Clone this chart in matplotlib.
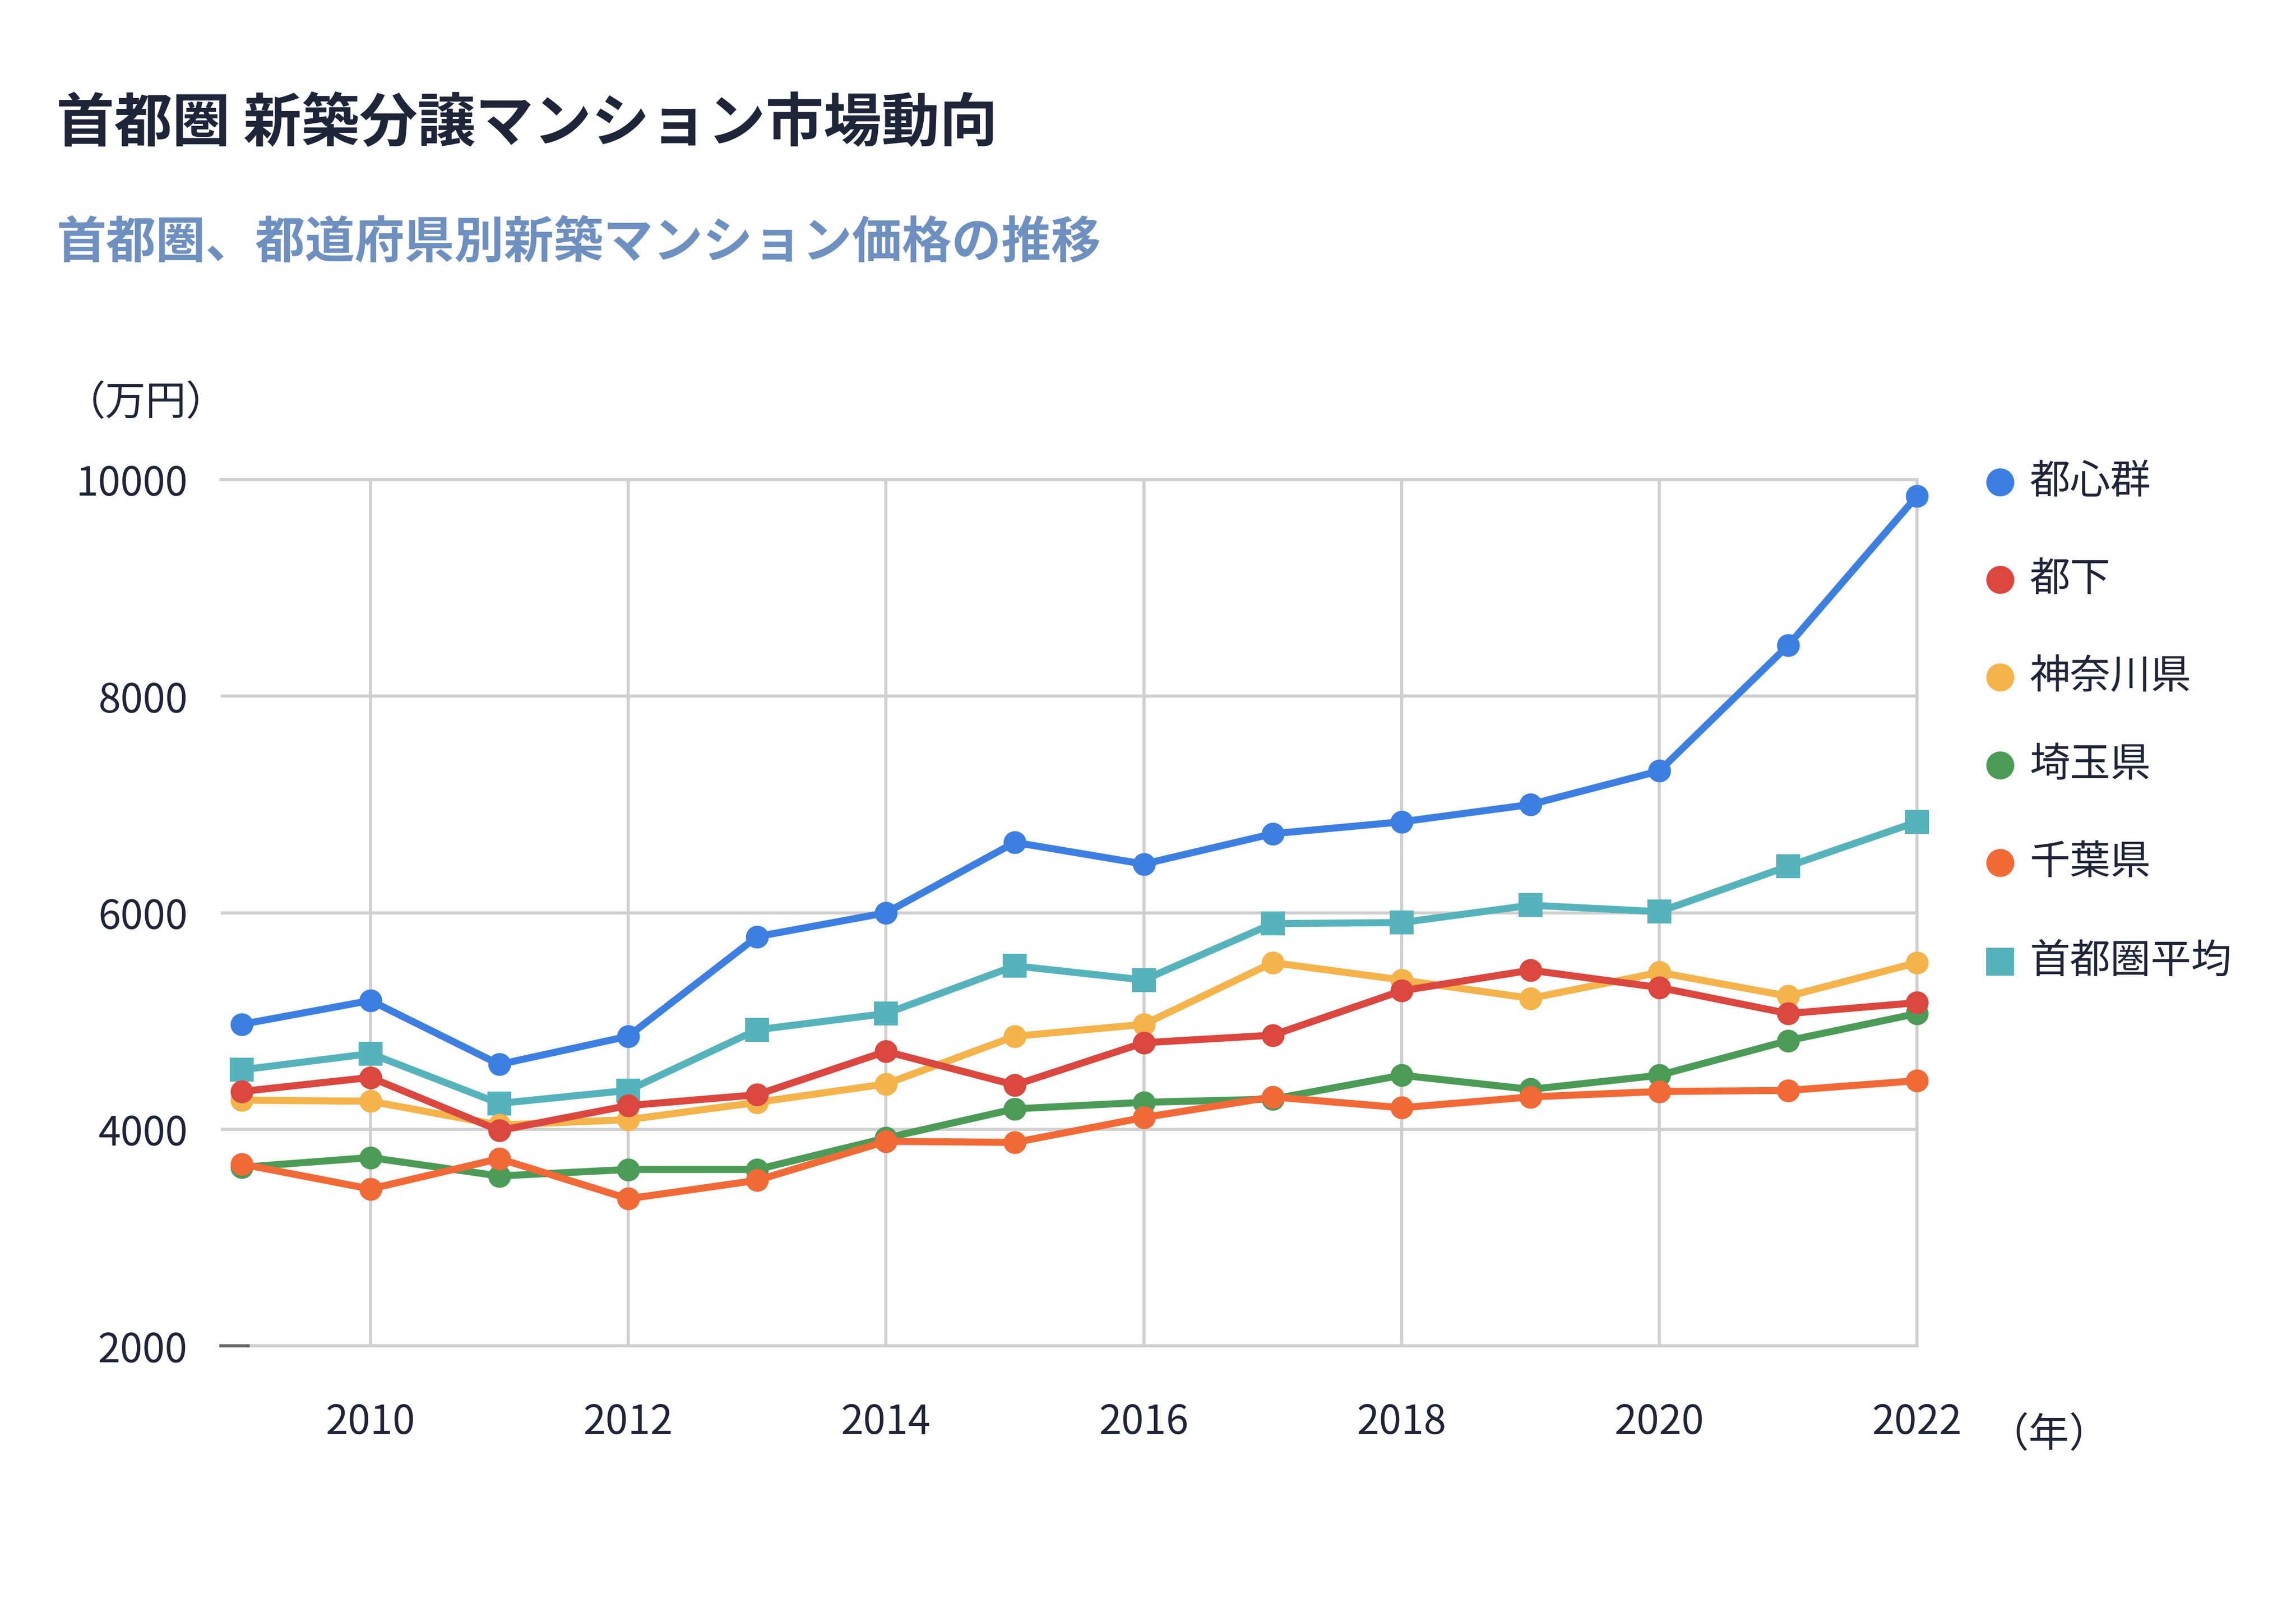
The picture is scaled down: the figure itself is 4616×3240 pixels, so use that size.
import matplotlib
matplotlib.use("Agg")
import matplotlib.pyplot as plt
from matplotlib.lines import Line2D

plt.rcParams['font.family'] = ['Noto Sans CJK JP', 'DejaVu Sans']

# データ (万円)
years = list(range(2009, 2023))
toshin = [4970, 5190, 4600, 4860, 5780, 6000, 6650, 6450, 6730, 6840, 7000, 7310, 8470, 9850]
tokka = [4350, 4480, 3990, 4220, 4320, 4720, 4410, 4800, 4870, 5280, 5470, 5310, 5070, 5170]
kanagawa = [4270, 4260, 4040, 4090, 4250, 4420, 4860, 4970, 5540, 5380, 5210, 5450, 5230, 5540]
saitama = [3650, 3740, 3570, 3630, 3630, 3920, 4190, 4250, 4280, 4500, 4370, 4500, 4820, 5070]
chiba = [3680, 3450, 3730, 3360, 3530, 3890, 3880, 4110, 4300, 4200, 4300, 4350, 4360, 4450]
heikin = [4550, 4700, 4240, 4360, 4920, 5070, 5510, 5380, 5900, 5910, 6070, 6010, 6430, 6840]

labels = ['都心群', '都下', '神奈川県', '埼玉県', '千葉県', '首都圏平均']
colors = ['#3d7fe0', '#d9473f', '#f4b34b', '#4b9b57', '#f06a38', '#57b3bb']
markers = ['o', 'o', 'o', 'o', 'o', 's']
series = [toshin, tokka, kanagawa, saitama, chiba, heikin]
zorders = [9, 8, 6, 5, 7, 4]

x_ticks = [2010, 2012, 2014, 2016, 2018, 2020, 2022]
y_ticks = [2000, 4000, 6000, 8000, 10000]

dark = '#1e2538'
grid_c = '#d0d0d0'

fig = plt.figure(figsize=(4616 / 300, 3240 / 300), dpi=300)
ax = fig.add_axes([0.0962, 0.165, 0.835 - 0.0962, 0.7025 - 0.165])

for vals, lab, c, m, z in zip(series, labels, colors, markers, zorders):
    ax.plot(years, vals, color=c, lw=3.4, marker=m,
            markersize=10 if m == 'o' else 10.5, label=lab, zorder=z, clip_on=False)

ax.set_xlim(2008.84, 2022)
ax.set_ylim(2000, 10000)
ax.set_xticks(x_ticks)
ax.set_yticks(y_ticks)
ax.grid(True, color=grid_c, lw=1.5)
ax.set_axisbelow(True)
for s in ['top', 'bottom', 'right']:
    ax.spines[s].set_color(grid_c)
    ax.spines[s].set_linewidth(1.5)
ax.spines['left'].set_visible(False)
ax.tick_params(axis='both', length=0, labelsize=19.5, labelcolor=dark)
ax.tick_params(axis='y', pad=16)
ax.tick_params(axis='x', pad=27)
# 左下の小さな目盛り
ax.plot([0, 0.016], [0, 0], transform=ax.transAxes, color='#666666', lw=1.5, clip_on=False, zorder=10)

ax.text(-0.092, 1.088, '（万円）', transform=ax.transAxes, fontsize=19.5,
        color=dark, ha='left', va='center')
ax.text(1.042, -0.103, '（年）', transform=ax.transAxes, fontsize=19.5,
        color=dark, ha='left', va='center')

fig.text(0.0245, 0.9228, '首都圏 新築分譲マンション市場動向', fontsize=28,
         fontweight='bold', color=dark, ha='left', va='center')
fig.text(0.0245, 0.849, '首都圏、都道府県別新築マンション価格の推移', fontsize=24,
         fontweight='bold', color='#6e90c0', ha='left', va='center')

# 凡例
legend_y = [969, 1165, 1361, 1538, 1734, 1933]
for lab, c, m, yy in zip(labels, colors, markers, legend_y):
    fy = 1 - yy / 3240
    fig.add_artist(Line2D([0.871], [fy], marker=m, color=c, linestyle='none',
                          markersize=12.5, transform=fig.transFigure))
    fig.text(0.884, fy, lab, fontsize=19.5, color=dark, ha='left', va='center')

fig.savefig('out.png', dpi=300, facecolor='white')
